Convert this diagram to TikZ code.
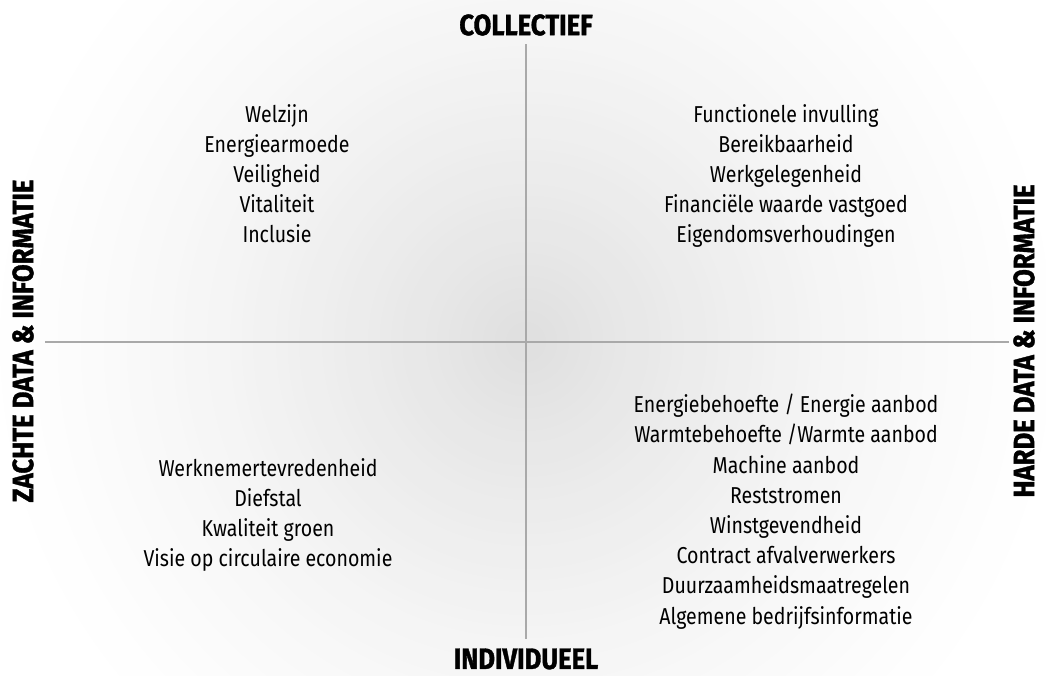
\documentclass[tikz,border=0pt]{standalone}
\usepackage{fontspec}
\setmainfont{Fira Sans}[FakeStretch=0.85]
\newfontfamily\headfont{Fira Sans}[FakeStretch=0.87, BoldFeatures={FakeBold=1.2}]
\definecolor{axisgray}{HTML}{A9A9A9}
\tikzset{
  axis/.style={draw=axisgray, line width=1.6pt},
  itemlist/.style={align=center, font=\fontsize{23}{30.2}\selectfont, inner sep=0pt, anchor=north},
  heading/.style={font=\headfont\bfseries\fontsize{29.5}{32}\selectfont, inner sep=0pt},
}
\begin{document}
\begin{tikzpicture}[x=1pt, y=-1pt]
  \useasboundingbox (0,0) rectangle (1046,675);
  % white page with a soft grey glow around the crossing of the axes
  \begin{scope}
    \clip (0,0) rectangle (1046,675);
    \fill[white] (0,0) rectangle (1046,675);
    \foreach \i in {0,...,47} {
      \pgfmathsetmacro{\rad}{560-11.5*\i}
      \pgfmathsetmacro{\shadeval}{12*(\i/47)^1.4}
      \fill[black!\shadeval] (526,342) circle (\rad);
    }
  \end{scope}

  % axes
  \coordinate (top) at (526,44);
  \coordinate (bottom) at (526,639);
  \coordinate (left) at (45,342);
  \coordinate (right) at (1009,342);
  \draw[axis] (top) -- (bottom);
  \draw[axis] (left) -- (right);

  % axis headings
  \node[heading] (collectief) at (526,25) {COLLECTIEF};
  \node[heading] (individueel) at (526,659) {INDIVIDUEEL};
  \node[heading, rotate=90] (zacht) at (23,341) {ZACHTE DATA \& INFORMATIE};
  \node[heading, rotate=90] (hard) at (1024,341) {HARDE DATA \& INFORMATIE};

  % quadrant contents
  \node[itemlist] (tl) at (277,104) {Welzijn\\Energiearmoede\\Veiligheid\\Vitaliteit\\Inclusie};
  \node[itemlist] (tr) at (786,104) {Functionele invulling\\Bereikbaarheid\\Werkgelegenheid\\Financiële waarde vastgoed\\Eigendomsverhoudingen};
  \node[itemlist] (bl) at (268,458) {Werknemertevredenheid\\Diefstal\\Kwaliteit groen\\Visie op circulaire economie};
  \node[itemlist] (br) at (786,394) {Energiebehoefte / Energie aanbod\\Warmtebehoefte /Warmte aanbod\\Machine aanbod\\Reststromen\\Winstgevendheid\\Contract afvalverwerkers\\Duurzaamheidsmaatregelen\\Algemene bedrijfsinformatie};
\end{tikzpicture}
\end{document}
